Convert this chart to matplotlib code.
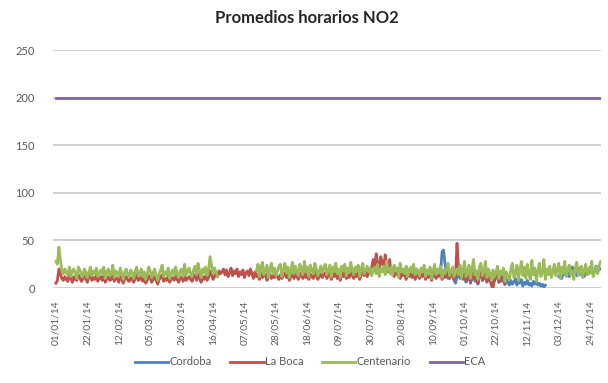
import numpy as np
import pandas as pd
import matplotlib
matplotlib.use("Agg")
import matplotlib.pyplot as plt

N = None

# Daily NO2 means for 2014, one row per month
centenario = [
    28,25,43,30,18,15,20,16,14,22,12,18,20,15,10,22,19,14,12,20,17,11,16,22,13,18,15,21,12,16,19,
    14,22,10,17,20,13,15,24,11,18,16,12,21,15,9,17,20,14,12,19,16,10,18,22,13,15,20,12,
    17,9,14,22,18,11,16,20,13,8,15,19,24,12,17,14,21,10,16,19,13,22,15,11,18,20,12,25,14,17,21,
    15,12,19,23,14,26,18,11,20,16,22,13,19,33,24,15,21,17,12,N,N,N,N,N,N,N,N,N,N,N,
    N,N,N,N,N,N,N,N,N,N,N,N,N,N,18,25,12,22,27,14,19,24,11,20,26,15,21,13,18,23,25,
    12,20,26,16,22,11,19,27,15,23,18,13,25,21,14,28,17,22,12,24,19,15,26,20,13,18,23,16,21,25,
    14,19,24,12,22,17,26,15,20,11,23,18,25,13,21,16,27,19,14,22,18,24,12,20,26,15,19,23,17,21,13,
    18,22,15,25,12,20,17,23,14,28,19,16,22,13,24,18,21,11,26,17,20,15,23,12,19,22,16,25,14,20,18,
    13,21,17,24,12,19,15,22,10,18,25,14,20,16,23,11,19,15,21,26,13,18,22,12,17,20,14,24,11,19,
    28,12,16,24,10,20,30,14,18,9,22,26,13,17,28,11,20,15,8,19,12,16,23,10,18,14,21,7,17,12,9,
    20,26,11,16,24,8,19,28,13,22,10,25,15,9,29,14,21,7,18,26,12,16,30,9,20,14,23,11,17,25,
    13,19,26,10,22,15,28,12,20,24,14,18,9,21,27,13,17,23,11,19,25,14,20,16,28,12,18,22,15,24,28,
]

la_boca = [
    5,8,20,15,10,8,12,9,7,15,10,6,12,9,8,14,11,7,9,13,10,6,12,15,8,11,9,13,7,10,12,
    8,14,6,10,12,8,9,16,7,11,10,6,13,9,5,10,12,8,7,11,9,6,10,14,8,9,12,7,
    10,5,8,13,11,6,9,12,8,4,9,11,14,7,10,8,12,6,9,11,8,13,9,6,10,12,7,14,8,10,12,
    9,7,11,14,8,15,10,6,12,9,13,8,11,18,14,9,12,16,12,18,15,17,20,14,19,12,16,21,13,18,
    15,20,12,17,14,19,11,16,18,13,20,15,10,17,12,14,9,16,11,13,15,8,12,14,10,13,11,15,12,9,14,
    10,13,16,11,14,8,12,17,10,15,12,9,16,13,10,18,11,14,9,15,12,10,17,13,9,12,15,11,14,16,
    10,13,16,9,15,12,18,10,14,8,16,12,18,10,15,11,19,13,10,15,12,17,9,14,19,13,17,12,16,20,22,
    30,22,36,25,18,33,28,20,35,24,17,30,15,20,12,18,14,20,10,17,13,16,9,19,12,15,11,17,9,14,13,
    10,15,12,18,9,14,11,16,8,13,19,10,15,12,17,9,14,11,16,20,10,14,17,9,13,47,18,12,15,10,
    20,8,11,17,6,14,22,9,12,5,15,18,8,12,20,7,14,10,3,0,8,12,16,6,13,9,15,4,N,N,N,
] + [N] * 61

cordoba = [N] * 243 + [
    N,N,N,N,N,N,N,N,N,15,12,18,14,20,16,38,40,25,14,10,16,12,18,8,5,12,15,10,14,9,
    12,6,9,14,5,10,15,7,11,4,13,16,8,10,14,6,12,9,3,5,8,11,14,6,10,7,12,4,9,6,3,
    8,4,6,10,3,7,5,9,2,6,4,8,3,5,2,7,4,6,3,5,2,4,1,3,N,N,N,N,N,N,
    N,N,12,15,10,18,14,20,16,12,18,22,15,19,13,17,21,14,18,12,16,20,15,22,18,14,19,23,17,21,20,
]

eca_limit = 200
series_names = ["Cordoba", "La Boca", "Centenario", "ECA"]
colors = ["#4F81BD", "#C0504D", "#9BBB59", "#8064A2"]
y_ticks = [0, 50, 100, 150, 200, 250]

dates = pd.date_range("2014-01-01", "2014-12-31", freq="D")
days = np.arange(len(dates))
tick_idx = days[::21]
tick_labels = [d.strftime("%d/%m/%y") for d in dates[::21]]

plt.rcParams["font.family"] = ["Lato", "DejaVu Sans"]

fig = plt.figure(figsize=(6.08, 3.83), dpi=100)
ax = fig.add_axes([0.087, 0.248, 0.901, 0.621])

values = [cordoba, la_boca, centenario, [eca_limit] * len(days)]
for name, vals, col in zip(series_names, values, colors):
    ax.plot(days, np.array(vals, dtype=float), color=col, lw=2.0, label=name,
            solid_joinstyle="round")

ax.set_xlim(-2, 364)
ax.set_ylim(0, 250)
ax.set_yticks(y_ticks)
ax.set_xticks(tick_idx)
ax.set_xticklabels(tick_labels, rotation=90, fontsize=7.3, color="#595959")
ax.tick_params(axis="y", labelsize=8, labelcolor="#595959", length=0, pad=13)
ax.tick_params(axis="x", length=0, pad=9)
ax.grid(axis="y", color="#C8C8C8", lw=1.2)
ax.set_axisbelow(True)
for s in ax.spines.values():
    s.set_visible(False)

fig.suptitle("Promedios horarios NO2", x=0.505, y=0.975, fontsize=12,
             fontweight="bold", color="#262626")

leg = fig.legend(loc="center", bbox_to_anchor=(0.51, 0.055), ncol=4, frameon=False,
                 fontsize=8, handlelength=3.0, handletextpad=0.1, columnspacing=1.7)
for t in leg.get_texts():
    t.set_color("#595959")

fig.savefig("out.png", dpi=100)
